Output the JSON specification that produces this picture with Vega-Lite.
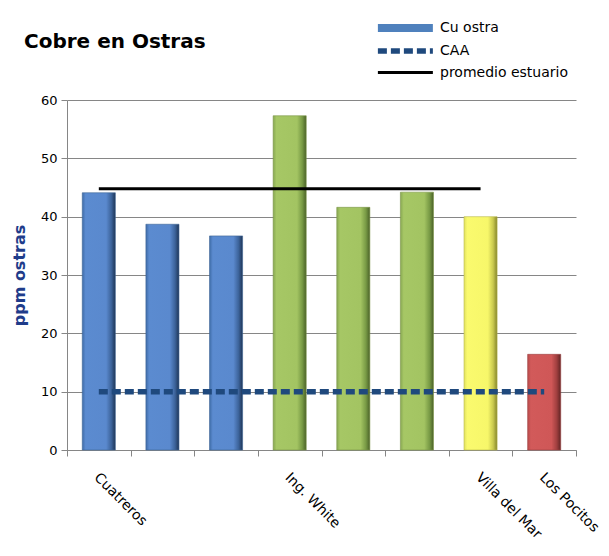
{
  "$schema": "https://vega.github.io/schema/vega-lite/v6.json",
  "width": 509,
  "height": 350,
  "autosize": {"type": "none"},
  "padding": {"left": 67, "top": 100, "right": 33, "bottom": 106},
  "background": "white",
  "title": {
    "text": "Cobre en Ostras",
    "anchor": "start",
    "frame": "group",
    "dx": -43,
    "font": "DejaVu Sans",
    "fontSize": 20,
    "fontWeight": "bold",
    "color": "#000000",
    "baseline": "alphabetic",
    "offset": -51
  },
  "config": {
    "view": {"stroke": null},
    "font": "DejaVu Sans",
    "axis": {
      "labelFont": "DejaVu Sans",
      "labelFontSize": 13,
      "labelColor": "#000000",
      "domainColor": "#868686",
      "tickColor": "#868686",
      "gridColor": "#868686",
      "tickSize": 6
    },
    "legend": {
      "labelFont": "DejaVu Sans",
      "labelFontSize": 14,
      "labelColor": "#000000"
    }
  },
  "datasets": {
    "bars": [
      {"id": "1", "sitio": "Cuatreros", "ppm": 44.1, "grupo": "azul"},
      {"id": "2", "sitio": "", "ppm": 38.7, "grupo": "azul"},
      {"id": "3", "sitio": "", "ppm": 36.7, "grupo": "azul"},
      {"id": "4", "sitio": "Ing. White", "ppm": 57.3, "grupo": "verde"},
      {"id": "5", "sitio": "", "ppm": 41.6, "grupo": "verde"},
      {"id": "6", "sitio": "", "ppm": 44.2, "grupo": "verde"},
      {"id": "7", "sitio": "Villa del Mar", "ppm": 40.0, "grupo": "amarillo"},
      {"id": "8", "sitio": "Los Pocitos", "ppm": 16.4, "grupo": "rojo"}
    ],
    "lineas": [
      {"serie": "CAA", "desde": "1", "hasta": "8", "valor": 10},
      {"serie": "promedio estuario", "desde": "1", "hasta": "7", "valor": 44.8}
    ]
  },
  "layer": [
    {
      "data": {"name": "bars"},
      "transform": [{"filter": "datum.grupo === 'azul'"}],
      "mark": {
        "type": "bar",
        "width": {"band": 0.52},
        "stroke": "#3E6596",
        "strokeWidth": 0.6,
        "color": {
          "gradient": "linear", "x1": 0, "x2": 1, "y1": 0, "y2": 0,
          "stops": [
            {"offset": 0, "color": "#3F6CA8"},
            {"offset": 0.1, "color": "#5B8BD0"},
            {"offset": 0.72, "color": "#5A89CE"},
            {"offset": 0.88, "color": "#3C639A"},
            {"offset": 1, "color": "#1E3556"}
          ]
        }
      },
      "encoding": {
        "x": {
          "field": "id", "type": "nominal", "sort": null,
          "scale": {"domain": ["1","2","3","4","5","6","7","8"], "paddingInner": 0, "paddingOuter": 0},
          "axis": {
            "title": null,
            "labelExpr": "datum.value === '1' ? 'Cuatreros' : datum.value === '4' ? 'Ing. White' : datum.value === '7' ? 'Villa del Mar' : datum.value === '8' ? 'Los Pocitos' : ''",
            "labelAngle": 45,
            "labelAlign": "left",
            "labelBaseline": "top",
            "labelFontSize": 14,
            "labelPadding": 14,
            "labelOffset": 2,
            "tickBand": "extent",
            "grid": false
          }
        },
        "y": {
          "field": "ppm", "type": "quantitative",
          "scale": {"domain": [0, 60], "nice": false},
          "axis": {
            "values": [0, 10, 20, 30, 40, 50, 60],
            "title": "ppm ostras",
            "titleFont": "DejaVu Sans",
            "titleFontSize": 16,
            "titleFontWeight": "bold",
            "titleColor": "#1F3C8A",
            "titlePadding": 13,
            "labelPadding": 4,
            "grid": true
          }
        }
      }
    },
    {
      "data": {"name": "bars"},
      "transform": [{"filter": "datum.grupo === 'verde'"}],
      "mark": {
        "type": "bar",
        "width": {"band": 0.52},
        "stroke": "#7A9446",
        "strokeWidth": 0.6,
        "color": {
          "gradient": "linear", "x1": 0, "x2": 1, "y1": 0, "y2": 0,
          "stops": [
            {"offset": 0, "color": "#88A852"},
            {"offset": 0.1, "color": "#A6C765"},
            {"offset": 0.72, "color": "#A3C462"},
            {"offset": 0.88, "color": "#789A45"},
            {"offset": 1, "color": "#4A6128"}
          ]
        }
      },
      "encoding": {
        "x": {"field": "id", "type": "nominal", "sort": null},
        "y": {"field": "ppm", "type": "quantitative"}
      }
    },
    {
      "data": {"name": "bars"},
      "transform": [{"filter": "datum.grupo === 'amarillo'"}],
      "mark": {
        "type": "bar",
        "width": {"band": 0.52},
        "stroke": "#B8B84A",
        "strokeWidth": 0.6,
        "color": {
          "gradient": "linear", "x1": 0, "x2": 1, "y1": 0, "y2": 0,
          "stops": [
            {"offset": 0, "color": "#E0E060"},
            {"offset": 0.1, "color": "#FAFA6E"},
            {"offset": 0.72, "color": "#F7F76A"},
            {"offset": 0.88, "color": "#C9C94E"},
            {"offset": 1, "color": "#85852C"}
          ]
        }
      },
      "encoding": {
        "x": {"field": "id", "type": "nominal", "sort": null},
        "y": {"field": "ppm", "type": "quantitative"}
      }
    },
    {
      "data": {"name": "bars"},
      "transform": [{"filter": "datum.grupo === 'rojo'"}],
      "mark": {
        "type": "bar",
        "width": {"band": 0.52},
        "stroke": "#9A4040",
        "strokeWidth": 0.6,
        "color": {
          "gradient": "linear", "x1": 0, "x2": 1, "y1": 0, "y2": 0,
          "stops": [
            {"offset": 0, "color": "#B84B4B"},
            {"offset": 0.1, "color": "#D25A5A"},
            {"offset": 0.72, "color": "#CF5757"},
            {"offset": 0.88, "color": "#A03F3F"},
            {"offset": 1, "color": "#602424"}
          ]
        }
      },
      "encoding": {
        "x": {"field": "id", "type": "nominal", "sort": null},
        "y": {"field": "ppm", "type": "quantitative"}
      }
    },
    {
      "data": {"name": "lineas"},
      "mark": {"type": "rule", "strokeCap": "butt"},
      "encoding": {
        "x": {"field": "desde", "type": "nominal", "sort": null},
        "x2": {"field": "hasta"},
        "y": {"field": "valor", "type": "quantitative"},
        "stroke": {
          "field": "serie", "type": "nominal",
          "scale": {"domain": ["Cu ostra", "CAA", "promedio estuario"], "range": ["#4F81BD", "#1F497D", "#000000"]},
          "legend": {
            "title": null,
            "orient": "none",
            "legendX": 348,
            "legendY": -83,
            "padding": 0,
            "symbolType": "M-7,0H1",
            "symbolSize": 189,
            "symbolOffset": 0,
            "labelOffset": 3,
            "rowPadding": 6,
            "symbolFillColor": "transparent",
            "encoding": {"symbols": {"strokeJoin": {"value": "round"}}}
          }
        },
        "strokeDash": {
          "field": "serie", "type": "nominal",
          "scale": {"domain": ["Cu ostra", "CAA", "promedio estuario"], "range": [[1, 0], [9, 4], [1, 0]]},
          "legend": {
            "title": null,
            "orient": "none",
            "legendX": 348,
            "legendY": -83,
            "padding": 0,
            "symbolType": "M-7,0H1",
            "symbolSize": 189,
            "symbolOffset": 0,
            "labelOffset": 3,
            "rowPadding": 6,
            "symbolFillColor": "transparent",
            "encoding": {"symbols": {"strokeJoin": {"value": "round"}}}
          }
        },
        "strokeWidth": {
          "field": "serie", "type": "nominal",
          "scale": {"domain": ["Cu ostra", "CAA", "promedio estuario"], "range": [8, 3, 3]},
          "legend": {
            "title": null,
            "orient": "none",
            "legendX": 348,
            "legendY": -83,
            "padding": 0,
            "symbolType": "M-7,0H1",
            "symbolSize": 189,
            "symbolOffset": 0,
            "labelOffset": 3,
            "rowPadding": 6,
            "symbolFillColor": "transparent",
            "encoding": {"symbols": {"strokeJoin": {"value": "round"}}}
          }
        }
      }
    }
  ]
}
